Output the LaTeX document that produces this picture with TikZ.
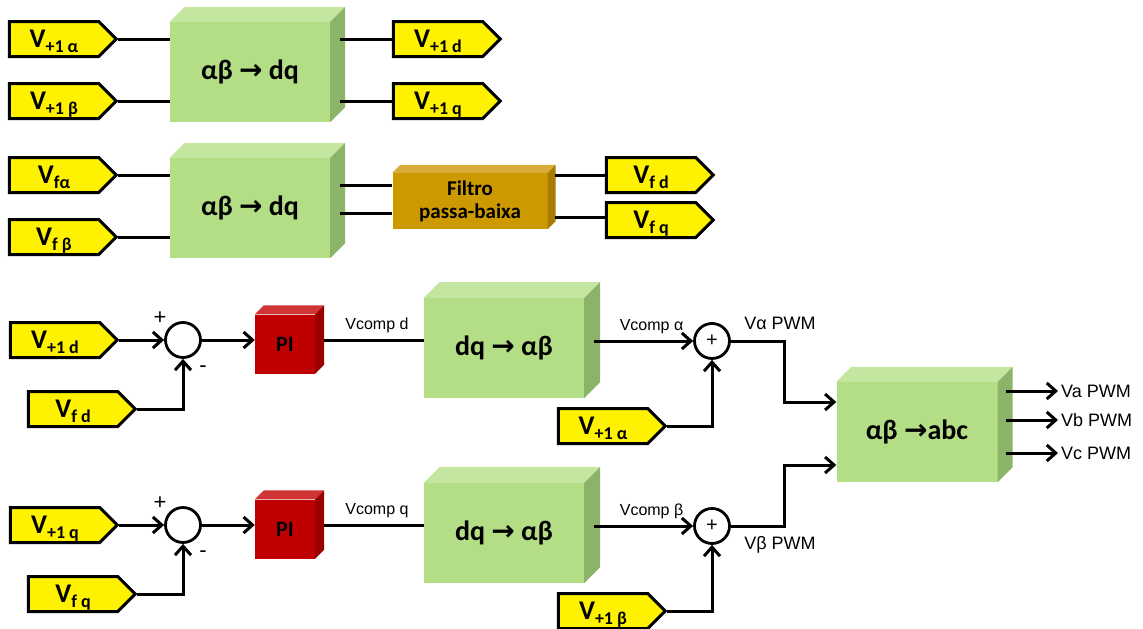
\documentclass[tikz,border=0pt]{standalone}
\usepackage{fontspec}
\setmainfont{Carlito}
\newfontfamily\arial{Liberation Sans}
\newfontfamily\setafont{DejaVu Sans}
\usetikzlibrary{arrows.meta,calc,shapes.symbols}
\definecolor{verde}{RGB}{179,222,134}
\definecolor{verdetopo}{RGB}{196,230,160}
\definecolor{verdelado}{RGB}{140,180,104}
\definecolor{ouro}{RGB}{204,153,0}
\definecolor{ourotopo}{RGB}{217,172,58}
\definecolor{ourolado}{RGB}{168,124,0}
\definecolor{vermelho}{RGB}{192,0,0}
\definecolor{vermelhotopo}{RGB}{208,52,52}
\definecolor{vermelholado}{RGB}{153,0,0}
\tikzset{fio/.style={line width=3pt},
         flecha/.style={fio,-{Straight Barb[length=9pt,width=16pt]}},
         tag/.style={signal,signal to=east,signal pointer angle=90,draw=black,fill=yellow,
                     line width=3pt,minimum width=107pt,minimum height=35pt,inner sep=0pt,
                     text height=17pt,text depth=0pt,font=\bfseries\fontsize{27}{27}\selectfont},
         bloco/.style={fill=verde,minimum width=160pt,minimum height=100pt,inner sep=0pt,
                       font=\bfseries\fontsize{28}{28}\selectfont},
         soma/.style={circle,draw=black,fill=white,line width=2.8pt,minimum size=35pt,inner sep=0pt,
                      font=\arial\fontsize{20}{20}\selectfont},
         rot/.style={font=\arial\fontsize{16}{16}\selectfont},
         pwm/.style={font=\arial\fontsize{18}{18}\selectfont},
         sinal/.style={font=\arial\fontsize{22}{22}\selectfont}}
\newcommand{\ind}[1]{\raisebox{-5pt}{\fontsize{18}{18}\selectfont#1}}
\newcommand{\seta}{{\setafont\bfseries →}}
% faces de cima e do lado: no, profundidade, cor de cima, cor do lado
\newcommand{\faces}[4]{%
  \fill[#3] (#1.north west) -- ++(#2,-#2) -- ($(#1.north east)+(#2,-#2)$) -- (#1.north east) -- cycle;
  \fill[#4] (#1.north east) -- ++(#2,-#2) -- ($(#1.south east)+(#2,-#2)$) -- (#1.south east) -- cycle;}

\begin{document}
\begin{tikzpicture}[x=1pt,y=-1pt]
  \useasboundingbox (0,0) rectangle (1143,629);
  % transformadas de cima
  \node[bloco] (ab1) at (250,72) {αβ \seta\ dq};
  \faces{ab1}{15}{verdetopo}{verdelado}
  \node[bloco] (ab2) at (250,208) {αβ \seta\ dq};
  \faces{ab2}{15}{verdetopo}{verdelado}
  \node[fill=ouro,minimum width=155pt,minimum height=56pt,inner sep=0pt,align=center,
        font=\bfseries\fontsize{21}{23}\selectfont] (filtro) at (470,201) {Filtro\\passa-baixa};
  \faces{filtro}{8}{ourotopo}{ourolado}

  \node[tag] (va) at (54,39) {V\ind{+1 α}};
  \node[tag] (vb) at (54,101) {V\ind{+1 β}};
  \node[tag] (vd) at (438,39) {V\ind{+1 d}};
  \node[tag] (vq) at (438,101) {V\ind{+1 q}};
  \node[tag] (vfa) at (54,175) {V\ind{fα}};
  \node[tag] (vfb) at (54,237) {V\ind{f β}};
  \node[tag] (vfd) at (651,175) {V\ind{f d}};
  \node[tag] (vfq) at (651,220) {V\ind{f q}};

  \draw[fio] (va.east) -- (va.east -| ab1.west);
  \draw[fio] (vb.east) -- (vb.east -| ab1.west);
  \draw[fio] ($(ab1.east |- vd)+(10,0)$) -- (vd.west);
  \draw[fio] ($(ab1.east |- vq)+(10,0)$) -- (vq.west);
  \draw[fio] (vfa.east) -- (vfa.east -| ab2.west);
  \draw[fio] (vfb.east) -- (vfb.east -| ab2.west);
  \draw[fio] ($(ab2.east)+(10,-23)$) -- ($(filtro.west)+(0,-16)$);
  \draw[fio] ($(ab2.east)+(10,5)$) -- ($(filtro.west)+(0,12)$);
  \draw[fio] ($(filtro.east |- vfd)+(7,0)$) -- (vfd.west);
  \draw[fio] ($(filtro.east |- vfq)+(7,-3)$) -- ($(vfq.west)+(0,-3)$);

  % malha de controle
  \foreach \n/\y/\c/\ab in {1/340/d/α,2/525/q/β}{
    \node[tag] (vr\n) at (55,\y) {V\ind{+1 \c}};
    \node[tag] (vf\n) at (73,\y+69) {V\ind{f \c}};
    \node[soma] (s\n) at (183,\y) {};
    \node[sinal] at (160,\y-22) {+};
    \node[sinal] at (203,\y+29) {-};
    \node[fill=vermelho,minimum width=60pt,minimum height=59pt,inner sep=0pt,
          font=\bfseries\fontsize{22}{22}\selectfont] (pi\n) at (285,\y+4) {PI};
    \faces{pi\n}{9}{vermelhotopo}{vermelholado}
    \node[bloco] (dq\n) at (504,\y+8) {dq \seta\ αβ};
    \faces{dq\n}{16}{verdetopo}{verdelado}
    \node[soma] (c\n) at (712,\y+1) {+};
    \node[tag] (vs\n) at (603,\y+86) {V\ind{+1 \ab}};
    \draw[flecha] (vr\n.east) -- (s\n.west);
    \draw[flecha] (vf\n.east) -| (s\n.south);
    \draw[flecha] (s\n.east) -- (s\n.east -| pi\n.west);
    \draw[fio] ($(pi\n.east |- s\n)+(9,0)$) -- (s\n -| dq\n.west)
      node[rot,pos=0.53,above=2pt] {Vcomp \c};
    \draw[flecha] ($(dq\n.east |- c\n)+(10,0)$) -- (c\n.west)
      node[rot,pos=0.58,above=2pt] {Vcomp \ab};
    \draw[flecha] (vs\n.east) -| (c\n.south);
  }

  \node[bloco,minimum width=161pt] (abc) at (917,432) {αβ \seta abc};
  \faces{abc}{15}{verdetopo}{verdelado}
  \coordinate (ea) at ($(abc.west)+(0,-30)$);
  \coordinate (eb) at ($(abc.west)+(0,33)$);
  \draw[flecha] (c1.east) -| ($(ea)+(-52,0)$) -- (ea);
  \draw[flecha] (c2.east) -| ($(eb)+(-52,0)$) -- (eb);
  \node[pwm] at (780,323) {Vα PWM};
  \node[pwm] at (780,545) {Vβ PWM};

  \node[pwm,anchor=west,inner sep=3pt] (pa) at (1058,391) {Va PWM};
  \node[pwm,anchor=west,inner sep=3pt] (pb) at (1058,420) {Vb PWM};
  \node[pwm,anchor=west,inner sep=3pt] (pc) at (1058,453) {Vc PWM};
  \foreach \p in {pa,pb,pc}
    \draw[flecha] ($(abc.east |- \p)+(8,0)$) -- (\p.west);
\end{tikzpicture}
\end{document}
